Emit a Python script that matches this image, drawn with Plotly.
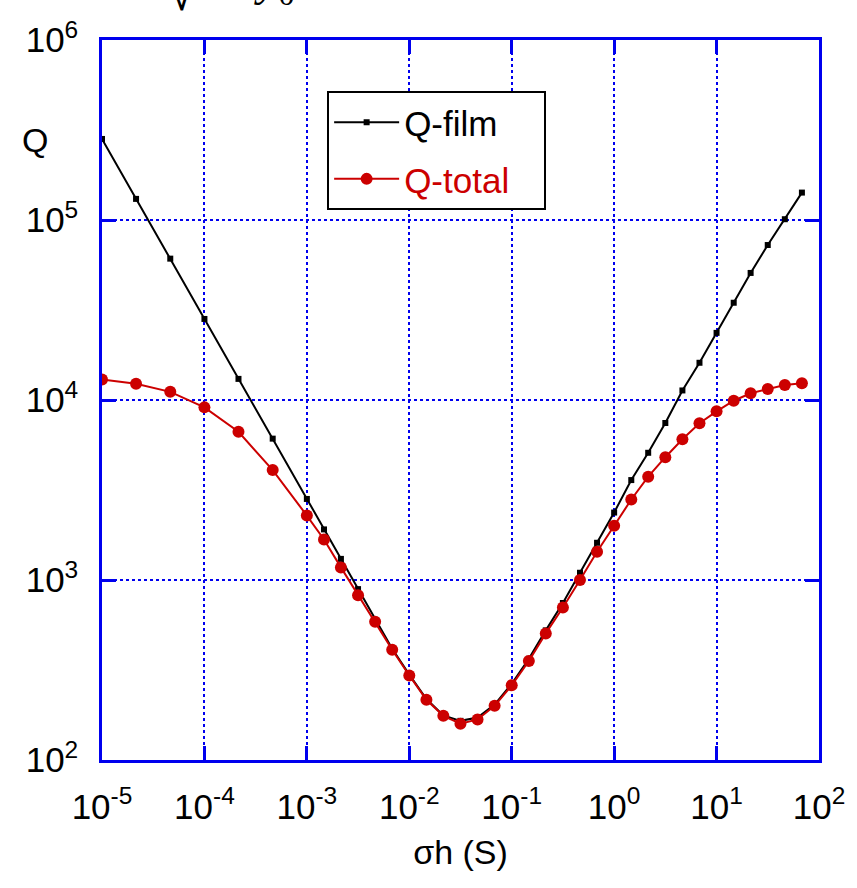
import plotly.graph_objects as go

# sigma*h (S)
sigma_h = [1e-5, 2.15e-5, 4.64e-5, 1e-4, 2.15e-4, 4.64e-4, 1e-3,
           1.47e-3, 2.15e-3, 3.16e-3, 4.64e-3, 6.81e-3, 1e-2,
           1.47e-2, 2.15e-2, 3.16e-2, 4.64e-2, 6.81e-2, 0.1,
           0.147, 0.215, 0.316, 0.464, 0.681, 1.0,
           1.47, 2.15, 3.16, 4.64, 6.81, 10.0,
           14.7, 21.5, 31.6, 46.4, 68.1]

q_film = [2.82e5, 1.31e5, 6.1e4, 2.82e4, 1.31e4, 6.1e3, 2.82e3,
          1.91e3, 1.31e3, 890, 600, 415, 298,
          218, 177, 165, 172, 203, 265,
          365, 525, 745, 1097, 1610, 2370,
          3590, 5090, 7450, 1.13e4, 1.61e4, 2.36e4,
          3.47e4, 5.08e4, 7.26e4, 1.01e5, 1.42e5]

q_total = [1.30e4, 1.23e4, 1.11e4, 9.1e3, 6.66e3, 4.08e3, 2.28e3,
           1.68e3, 1.175e3, 822, 586, 410, 295,
           216, 176, 159, 168, 200, 260,
           355, 505, 703, 1000, 1435, 2000,
           2800, 3750, 4810, 6050, 7430, 8650,
           9910, 1.09e4, 1.15e4, 1.21e4, 1.24e4]

x_tickvals = [1e-5, 1e-4, 1e-3, 1e-2, 1e-1, 1e0, 1e1, 1e2]
x_ticktext = ["10<sup>-5</sup>", "10<sup>-4</sup>", "10<sup>-3</sup>", "10<sup>-2</sup>",
              "10<sup>-1</sup>", "10<sup>0</sup>", "10<sup>1</sup>", "10<sup>2</sup>"]
y_tickvals = [1e2, 1e3, 1e4, 1e5, 1e6]
y_ticktext = ["10<sup>2</sup>", "10<sup>3</sup>", "10<sup>4</sup>", "10<sup>5</sup>", "10<sup>6</sup>"]

BLUE = "#0000ee"
RED = "#cc0000"
FONT = "Liberation Sans, Arial, sans-serif"

fig = go.Figure()
fig.add_trace(go.Scatter(
    x=sigma_h, y=q_film, mode="lines+markers", name="Q-film",
    legendgroup="a",
    line=dict(color="black", width=2),
    marker=dict(symbol="square", size=6, color="black"),
))
fig.add_trace(go.Scatter(
    x=sigma_h, y=q_total, mode="lines+markers",
    name="<span style='color:%s'>Q-total</span>&nbsp;&nbsp;&nbsp;" % RED,
    legendgroup="b",
    line=dict(color=RED, width=2),
    marker=dict(symbol="circle", size=12, color=RED),
))

axis_common = dict(
    type="log", showline=True, linecolor=BLUE, linewidth=2.5, mirror="ticks",
    ticks="inside", ticklen=14, tickwidth=2.5, tickcolor=BLUE,
    showgrid=True, gridcolor=BLUE, gridwidth=1.5, griddash="dot",
    zeroline=False, tickfont=dict(family=FONT, size=35, color="black"),
)

fig.update_layout(
    width=857, height=888,
    margin=dict(l=102, r=35, t=40, b=128),
    paper_bgcolor="white", plot_bgcolor="white",
    font=dict(family=FONT, size=34, color="black"),
    xaxis=dict(range=[-5, 2], tickvals=x_tickvals, ticktext=x_ticktext,
               ticklabelstandoff=14,
               title=dict(text="σh (S)", font=dict(family=FONT, size=34), standoff=16),
               **axis_common),
    yaxis=dict(range=[2, 6], tickvals=y_tickvals, ticktext=y_ticktext,
               ticklabelstandoff=14, **axis_common),
    legend=dict(x=0.314, y=0.929, xanchor="left", yanchor="top",
                bgcolor="white", bordercolor="black", borderwidth=2,
                font=dict(family=FONT, size=35, color="black"),
                itemwidth=65, tracegroupgap=8),
    showlegend=True,
)

fig.add_annotation(text="Q", xref="paper", yref="paper", x=-0.094, y=0.861,
                   xanchor="center", yanchor="middle",
                   showarrow=False, font=dict(family=FONT, size=34, color="black"))

# clipped fragment of an equation above the frame (cut off in the original too)
fig.add_annotation(text="√", xref="paper", yref="paper", x=(182 - 102) / 720, y=(760 - 22) / 720,
                   xanchor="center", yanchor="bottom",
                   showarrow=False, font=dict(family=FONT, size=46, color="black"))
fig.add_annotation(text="<i>y</i><sub>0</sub>", xref="paper", yref="paper", x=(275 - 102) / 720,
                   y=(760 - 14) / 720, xanchor="center", yanchor="bottom",
                   showarrow=False, font=dict(family="Liberation Serif, serif", size=46, color="black"))

fig.write_html("out.html")
